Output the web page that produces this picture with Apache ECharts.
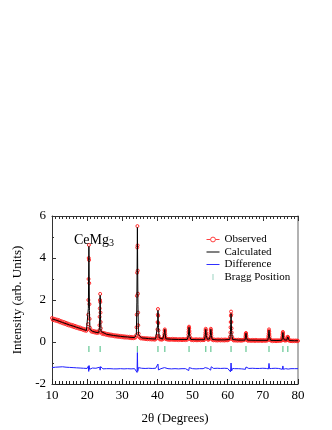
<!DOCTYPE html>
<html><head><meta charset="utf-8">
<script src="https://cdn.jsdelivr.net/npm/echarts@6/dist/echarts.min.js"></script>
<style>html,body{margin:0;padding:0;background:#fff}#c{width:332px;height:430px}</style>
</head><body><div id="c"></div>
<script>
const xTicks = [10, 20, 30, 40, 50, 60, 70, 80];
const yTicks = [-2, 0, 2, 4, 6];
const seriesNames = ['Observed', 'Calculated', 'Difference', 'Bragg Position'];
const sampleLabel = 'CeMg';
const sampleSub = '3';

const observed = [[10.00,1.14],[10.25,1.05],[10.50,1.11],[10.75,1.03],[11.00,1.09],[11.25,1.00],[11.50,1.06],[11.75,0.98],[12.00,1.04],[12.25,0.94],[12.50,1.00],[12.75,0.91],[13.00,0.97],[13.25,0.88],[13.50,0.95],[13.75,0.86],[14.00,0.91],[14.25,0.82],[14.50,0.88],[14.75,0.79],[15.00,0.85],[15.25,0.77],[15.50,0.82],[15.75,0.74],[16.00,0.80],[16.25,0.71],[16.50,0.77],[16.75,0.68],[17.00,0.74],[17.25,0.66],[17.50,0.71],[17.75,0.63],[18.00,0.69],[18.25,0.61],[18.50,0.65],[18.75,0.58],[19.00,0.63],[19.25,0.55],[19.50,0.60],[19.75,0.53],[20.00,0.59],[20.15,0.62],[20.25,0.85],[20.30,1.3],[20.35,2.0],[20.40,3.0],[20.45,4.0],[20.50,4.62],[20.55,3.9],[20.60,2.8],[20.65,1.8],[20.70,1.1],[20.80,0.68],[21.00,0.55],[21.25,0.49],[21.50,0.54],[21.75,0.47],[22.00,0.52],[22.25,0.45],[22.50,0.50],[22.75,0.43],[23.00,0.48],[23.25,0.44],[23.40,0.55],[23.50,0.8],[23.55,1.2],[23.60,1.6],[23.65,2.0],[23.70,2.29],[23.75,1.9],[23.80,1.4],[23.85,0.95],[23.90,0.65],[24.00,0.47],[24.25,0.39],[24.50,0.44],[24.75,0.37],[25.00,0.42],[25.25,0.35],[25.50,0.39],[25.75,0.33],[26.00,0.38],[26.25,0.31],[26.50,0.36],[26.75,0.30],[27.00,0.35],[27.25,0.29],[27.50,0.33],[27.75,0.27],[28.00,0.32],[28.25,0.26],[28.50,0.31],[28.75,0.25],[29.00,0.30],[29.25,0.24],[29.50,0.29],[29.75,0.23],[30.00,0.28],[30.25,0.22],[30.50,0.27],[30.75,0.21],[31.00,0.26],[31.25,0.21],[31.50,0.25],[31.75,0.20],[32.00,0.25],[32.25,0.19],[32.50,0.24],[32.75,0.18],[33.00,0.23],[33.25,0.18],[33.50,0.22],[33.75,0.21],[33.95,0.32],[34.05,0.7],[34.10,1.3],[34.15,2.2],[34.20,3.3],[34.25,4.5],[34.30,5.52],[34.35,4.6],[34.40,3.4],[34.45,2.3],[34.50,1.4],[34.55,0.8],[34.65,0.4],[34.75,0.25],[35.00,0.21],[35.25,0.17],[35.50,0.20],[35.75,0.16],[36.00,0.19],[36.25,0.15],[36.50,0.18],[36.75,0.14],[37.00,0.18],[37.25,0.13],[37.50,0.17],[37.75,0.13],[38.00,0.17],[38.25,0.12],[38.50,0.16],[38.75,0.12],[39.00,0.16],[39.25,0.11],[39.50,0.16],[39.75,0.17],[39.90,0.3],[40.00,0.6],[40.05,0.95],[40.10,1.3],[40.15,1.57],[40.20,1.25],[40.25,0.9],[40.30,0.55],[40.40,0.28],[40.50,0.17],[40.75,0.12],[41.00,0.15],[41.25,0.11],[41.50,0.15],[41.75,0.16],[41.90,0.25],[41.95,0.35],[42.00,0.45],[42.05,0.55],[42.10,0.6],[42.15,0.52],[42.20,0.4],[42.25,0.3],[42.35,0.19],[42.50,0.13],[42.75,0.15],[43.00,0.11],[43.25,0.15],[43.50,0.10],[43.75,0.14],[44.00,0.11],[44.25,0.15],[44.50,0.10],[44.75,0.14],[45.00,0.10],[45.25,0.14],[45.50,0.10],[45.75,0.13],[46.00,0.09],[46.25,0.14],[46.50,0.10],[46.75,0.13],[47.00,0.09],[47.25,0.14],[47.50,0.10],[47.75,0.13],[48.00,0.09],[48.25,0.14],[48.50,0.11],[48.70,0.2],[48.80,0.35],[48.85,0.48],[48.90,0.6],[48.95,0.68],[49.00,0.73],[49.05,0.66],[49.10,0.52],[49.15,0.4],[49.25,0.24],[49.40,0.14],[49.50,0.12],[49.75,0.09],[50.00,0.13],[50.25,0.08],[50.50,0.12],[50.75,0.09],[51.00,0.13],[51.25,0.08],[51.50,0.12],[51.75,0.09],[52.00,0.13],[52.25,0.08],[52.50,0.12],[52.75,0.09],[53.00,0.12],[53.25,0.09],[53.45,0.16],[53.55,0.25],[53.60,0.35],[53.65,0.45],[53.70,0.57],[53.75,0.63],[53.80,0.55],[53.85,0.42],[53.90,0.32],[54.00,0.2],[54.25,0.13],[54.50,0.10],[54.75,0.14],[54.95,0.2],[55.05,0.35],[55.10,0.45],[55.15,0.57],[55.20,0.63],[55.25,0.54],[55.30,0.42],[55.35,0.3],[55.45,0.17],[55.60,0.11],[55.75,0.12],[56.00,0.08],[56.25,0.12],[56.50,0.08],[56.75,0.11],[57.00,0.07],[57.25,0.12],[57.50,0.08],[57.75,0.11],[58.00,0.07],[58.25,0.12],[58.50,0.08],[58.75,0.11],[59.00,0.07],[59.25,0.12],[59.50,0.08],[59.75,0.11],[60.00,0.08],[60.25,0.12],[60.50,0.13],[60.65,0.25],[60.75,0.45],[60.80,0.7],[60.85,0.95],[60.90,1.25],[60.95,1.45],[61.00,1.3],[61.05,0.95],[61.10,0.65],[61.15,0.45],[61.25,0.25],[61.40,0.13],[61.50,0.11],[61.75,0.07],[62.00,0.11],[62.25,0.07],[62.50,0.10],[62.75,0.06],[63.00,0.11],[63.25,0.07],[63.50,0.10],[63.75,0.06],[64.00,0.10],[64.25,0.07],[64.50,0.10],[64.75,0.09],[64.95,0.15],[65.05,0.25],[65.10,0.33],[65.15,0.4],[65.20,0.43],[65.25,0.38],[65.30,0.3],[65.35,0.22],[65.45,0.13],[65.60,0.09],[65.75,0.06],[66.00,0.10],[66.25,0.06],[66.50,0.09],[66.75,0.05],[67.00,0.10],[67.25,0.06],[67.50,0.09],[67.75,0.05],[68.00,0.10],[68.25,0.06],[68.50,0.09],[68.75,0.05],[69.00,0.09],[69.25,0.06],[69.50,0.09],[69.75,0.05],[70.00,0.09],[70.25,0.06],[70.50,0.09],[70.75,0.05],[71.00,0.09],[71.25,0.07],[71.45,0.12],[71.55,0.22],[71.60,0.3],[71.65,0.4],[71.70,0.52],[71.75,0.6],[71.80,0.5],[71.85,0.38],[71.90,0.27],[72.00,0.16],[72.15,0.09],[72.25,0.07],[72.50,0.08],[72.75,0.04],[73.00,0.08],[73.25,0.05],[73.50,0.08],[73.75,0.04],[74.00,0.08],[74.25,0.05],[74.50,0.08],[74.75,0.05],[75.00,0.08],[75.25,0.06],[75.40,0.11],[75.50,0.18],[75.55,0.25],[75.60,0.35],[75.65,0.43],[75.70,0.48],[75.75,0.4],[75.80,0.3],[75.85,0.22],[75.95,0.13],[76.10,0.09],[76.25,0.07],[76.50,0.08],[76.75,0.08],[76.90,0.13],[77.00,0.19],[77.05,0.23],[77.10,0.25],[77.15,0.21],[77.20,0.16],[77.30,0.1],[77.50,0.06],[77.75,0.08],[78.00,0.04],[78.25,0.07],[78.50,0.04],[78.75,0.07],[79.00,0.04],[79.25,0.07],[79.50,0.04],[79.75,0.07],[80.00,0.05]];

const calculated = [[10,1.1],[11,1.05],[12,0.99],[13,0.93],[14,0.87],[15,0.81],[16,0.76],[17,0.70],[18,0.65],[19,0.59],[19.8,0.55],[20.2,0.62],[20.35,1.6],[20.5,4.55],[20.65,1.5],[20.8,0.6],[21.5,0.51],[22.5,0.46],[23.3,0.44],[23.5,0.7],[23.6,1.3],[23.7,2.22],[23.8,1.2],[23.95,0.5],[24.5,0.41],[25.5,0.37],[26.5,0.34],[27.5,0.31],[28.5,0.29],[29.5,0.27],[30.5,0.25],[31.5,0.24],[32.5,0.22],[33.5,0.21],[34.0,0.35],[34.15,1.9],[34.3,5.45],[34.45,1.8],[34.6,0.35],[35.5,0.19],[36.5,0.18],[37.5,0.16],[38.5,0.15],[39.5,0.14],[39.9,0.2],[40.05,0.8],[40.15,1.5],[40.3,0.7],[40.5,0.2],[41.5,0.14],[41.85,0.18],[42.0,0.45],[42.1,0.6],[42.2,0.4],[42.4,0.15],[44,0.13],[46,0.12],[48.5,0.12],[48.8,0.3],[49.0,0.7],[49.2,0.28],[49.5,0.12],[51,0.11],[53.4,0.11],[53.6,0.3],[53.75,0.6],[53.9,0.3],[54.2,0.13],[54.8,0.14],[55.05,0.3],[55.2,0.6],[55.35,0.3],[55.6,0.12],[57,0.1],[59,0.1],[60.6,0.12],[60.8,0.5],[60.95,1.35],[61.1,0.5],[61.35,0.12],[63,0.09],[64.9,0.09],[65.05,0.22],[65.2,0.42],[65.35,0.2],[65.6,0.09],[68,0.08],[71.4,0.08],[71.6,0.25],[71.75,0.56],[71.9,0.24],[72.2,0.08],[74,0.07],[75.4,0.08],[75.55,0.2],[75.7,0.45],[75.85,0.2],[76.1,0.1],[76.8,0.09],[77.0,0.18],[77.1,0.24],[77.25,0.15],[77.5,0.07],[79,0.06],[80,0.06]];

const difference = [[10.0,-1.22],[10.5,-1.18],[11.0,-1.2],[11.5,-1.16],[12.0,-1.19],[12.5,-1.21],[13.0,-1.18],[13.5,-1.22],[14.0,-1.2],[14.5,-1.23],[15.0,-1.21],[15.5,-1.24],[16.0,-1.22],[16.5,-1.25],[17.0,-1.23],[17.5,-1.26],[18.0,-1.24],[18.5,-1.27],[19.0,-1.25],[19.5,-1.27],[20.0,-1.26],[20.35,-1.15],[20.45,-1.4],[20.55,-1.12],[20.7,-1.3],[21.0,-1.26],[21.5,-1.24],[22.0,-1.27],[22.5,-1.25],[23.0,-1.28],[23.55,-1.2],[23.7,-1.34],[23.85,-1.17],[24.0,-1.26],[24.5,-1.28],[25.0,-1.25],[25.5,-1.27],[26.0,-1.24],[26.5,-1.27],[27.0,-1.25],[27.5,-1.28],[28.0,-1.26],[28.5,-1.28],[29.0,-1.25],[29.5,-1.27],[30.0,-1.26],[30.5,-1.28],[31.0,-1.25],[31.5,-1.27],[32.0,-1.26],[32.5,-1.28],[33.0,-1.25],[33.5,-1.27],[34.0,-1.24],[34.2,-1.45],[34.3,-0.5],[34.4,-1.4],[34.6,-1.22],[35.0,-1.27],[35.5,-1.25],[36.0,-1.28],[36.5,-1.26],[37.0,-1.27],[37.5,-1.25],[38.0,-1.28],[38.5,-1.26],[39.0,-1.27],[39.5,-1.25],[40.0,-1.3],[40.15,-1.05],[40.3,-1.33],[40.5,-1.26],[41.0,-1.27],[41.5,-1.25],[42.0,-1.22],[42.15,-1.3],[42.5,-1.26],[43.0,-1.27],[43.5,-1.25],[44.0,-1.28],[44.5,-1.26],[45.0,-1.27],[45.5,-1.25],[46.0,-1.28],[46.5,-1.26],[47.0,-1.27],[47.5,-1.25],[48.0,-1.27],[48.5,-1.26],[48.9,-1.36],[49.05,-1.22],[49.3,-1.28],[49.5,-1.26],[50.0,-1.27],[50.5,-1.25],[51.0,-1.28],[51.5,-1.26],[52.0,-1.27],[52.5,-1.25],[53.0,-1.27],[53.6,-1.22],[53.75,-1.3],[53.9,-1.2],[54.5,-1.26],[55.0,-1.2],[55.15,-1.34],[55.3,-1.18],[55.6,-1.27],[56.0,-1.26],[56.5,-1.27],[57.0,-1.25],[57.5,-1.28],[58.0,-1.26],[58.5,-1.27],[59.0,-1.25],[59.5,-1.27],[60.0,-1.26],[60.5,-1.27],[60.8,-1.42],[60.95,-1.0],[61.1,-1.38],[61.4,-1.26],[62.0,-1.27],[62.5,-1.25],[63.0,-1.27],[63.5,-1.26],[64.0,-1.28],[64.5,-1.26],[65.05,-1.3],[65.2,-1.19],[65.4,-1.28],[66.0,-1.26],[66.5,-1.27],[67.0,-1.25],[67.5,-1.27],[68.0,-1.26],[68.5,-1.28],[69.0,-1.26],[69.5,-1.27],[70.0,-1.25],[70.5,-1.27],[71.0,-1.26],[71.6,-1.28],[71.75,-1.02],[71.9,-1.27],[72.5,-1.26],[73.0,-1.27],[73.5,-1.25],[74.0,-1.27],[74.5,-1.26],[75.0,-1.27],[75.55,-1.3],[75.7,-1.14],[75.85,-1.3],[76.2,-1.26],[76.5,-1.27],[77.0,-1.24],[77.2,-1.29],[77.5,-1.26],[78.0,-1.27],[78.5,-1.26],[79.0,-1.27],[79.5,-1.26],[80.0,-1.27]];

const braggPositions = [20.5, 23.7, 34.3, 40.15, 42.1, 49.0, 53.75, 55.2, 60.95, 65.2, 71.75, 75.7, 77.1];
const braggLevel = -0.33;

const FONT = '"Liberation Serif", "Times New Roman", serif';
const chart = echarts.init(document.getElementById('c'), null, {renderer: 'canvas'});
const xMin = xTicks[0], xMax = xTicks[xTicks.length - 1];
const yMin = yTicks[0], yMax = yTicks[yTicks.length - 1];
const LINE_ICON = 'path://M0,0h13v1h-13z';

chart.setOption({
  animation: false,
  backgroundColor: '#fff',
  grid: {left: 52, right: 34, top: 216, bottom: 46, containLabel: false},
  title: {
    text: '{a|' + sampleLabel + '}{b|' + sampleSub + '}',
    left: 69, top: 227,
    textStyle: {fontWeight: 'normal', rich: {
      a: {fontFamily: FONT, fontSize: 14, fontWeight: 'normal', color: '#000'},
      b: {fontFamily: FONT, fontSize: 10, fontWeight: 'normal', color: '#000', verticalAlign: 'bottom', padding: [6, 0, 0, 0]}
    }}
  },
  legend: {
    orient: 'vertical', left: 201, top: 229,
    itemWidth: 13, itemHeight: 6, itemGap: 1.5,
    textStyle: {fontFamily: FONT, fontSize: 11, color: '#000'},
    data: [
      {name: seriesNames[0], lineStyle: {width: 1, opacity: 1, color: '#ff4040'}, itemStyle: {color: '#fff', borderColor: '#ff4040', borderWidth: 1}},
      {name: seriesNames[1], icon: LINE_ICON, itemStyle: {color: '#000'}},
      {name: seriesNames[2], icon: LINE_ICON, itemStyle: {color: '#3030ff'}},
      {name: seriesNames[3], icon: 'path://M0,0h1v8h-1z', itemStyle: {color: '#5ab89a'}}
    ]
  },
  xAxis: [{
    type: 'value', min: xMin, max: xMax, interval: 10, position: 'bottom',
    axisLine: {onZero: false, lineStyle: {color: '#222', width: 1}},
    axisTick: {inside: true, length: 5, lineStyle: {color: '#222'}},
    minorTick: {show: true, splitNumber: 10, length: 3, lineStyle: {color: '#222'}},
    splitLine: {show: false},
    axisLabel: {fontFamily: FONT, fontSize: 13, color: '#000', margin: 5},
    name: '2θ (Degrees)', nameLocation: 'middle', nameGap: 28,
    nameTextStyle: {fontFamily: FONT, fontSize: 13, color: '#000'}
  }, {
    type: 'value', min: xMin, max: xMax, interval: 10, position: 'top',
    axisLine: {show: true, onZero: false, lineStyle: {color: '#333', width: 1}},
    axisTick: {inside: true, length: 5, lineStyle: {color: '#333'}},
    minorTick: {show: true, splitNumber: 10, length: 3, lineStyle: {color: '#333'}},
    splitLine: {show: false}, axisLabel: {show: false}
  }],
  yAxis: [{
    type: 'value', min: yMin, max: yMax, interval: 2, position: 'left',
    axisLine: {show: true, onZero: false, lineStyle: {color: '#333', width: 1}},
    axisTick: {show: true, inside: true, length: 4, lineStyle: {color: '#333'}},
    minorTick: {show: true, splitNumber: 2, length: 2, lineStyle: {color: '#333'}},
    splitLine: {show: false},
    axisLabel: {fontFamily: FONT, fontSize: 13, color: '#000', margin: 6},
    name: 'Intensity (arb. Units)', nameLocation: 'middle', nameGap: 28,
    nameTextStyle: {fontFamily: FONT, fontSize: 13, color: '#000'}
  }, {
    type: 'value', min: yMin, max: yMax, interval: 2, position: 'right',
    axisLine: {show: true, onZero: false, lineStyle: {color: '#999', width: 1.5}},
    axisTick: {show: false}, axisLabel: {show: false}, splitLine: {show: false}
  }],
  series: [
    {
      name: seriesNames[0], type: 'line', data: observed,
      symbol: 'circle', symbolSize: 3, showSymbol: true, showAllSymbol: true,
      lineStyle: {width: 0, opacity: 0},
      itemStyle: {color: 'rgba(255,0,0,0)', borderColor: '#ff2a2a', borderWidth: 1},
      z: 2
    },
    {
      name: seriesNames[1], type: 'line', data: calculated, symbol: 'none',
      lineStyle: {width: 1, color: '#000'}, itemStyle: {color: '#000'}, z: 3
    },
    {
      name: seriesNames[2], type: 'line', data: difference, symbol: 'none',
      lineStyle: {width: 1, color: '#1f1fff'}, itemStyle: {color: '#1f1fff'}, z: 3
    },
    {
      name: seriesNames[3], type: 'scatter',
      data: braggPositions.map(p => [p, braggLevel]),
      symbol: 'rect', symbolSize: [1.2, 6],
      itemStyle: {color: '#3cb878'}, z: 3
    }
  ]
});
</script></body></html>
